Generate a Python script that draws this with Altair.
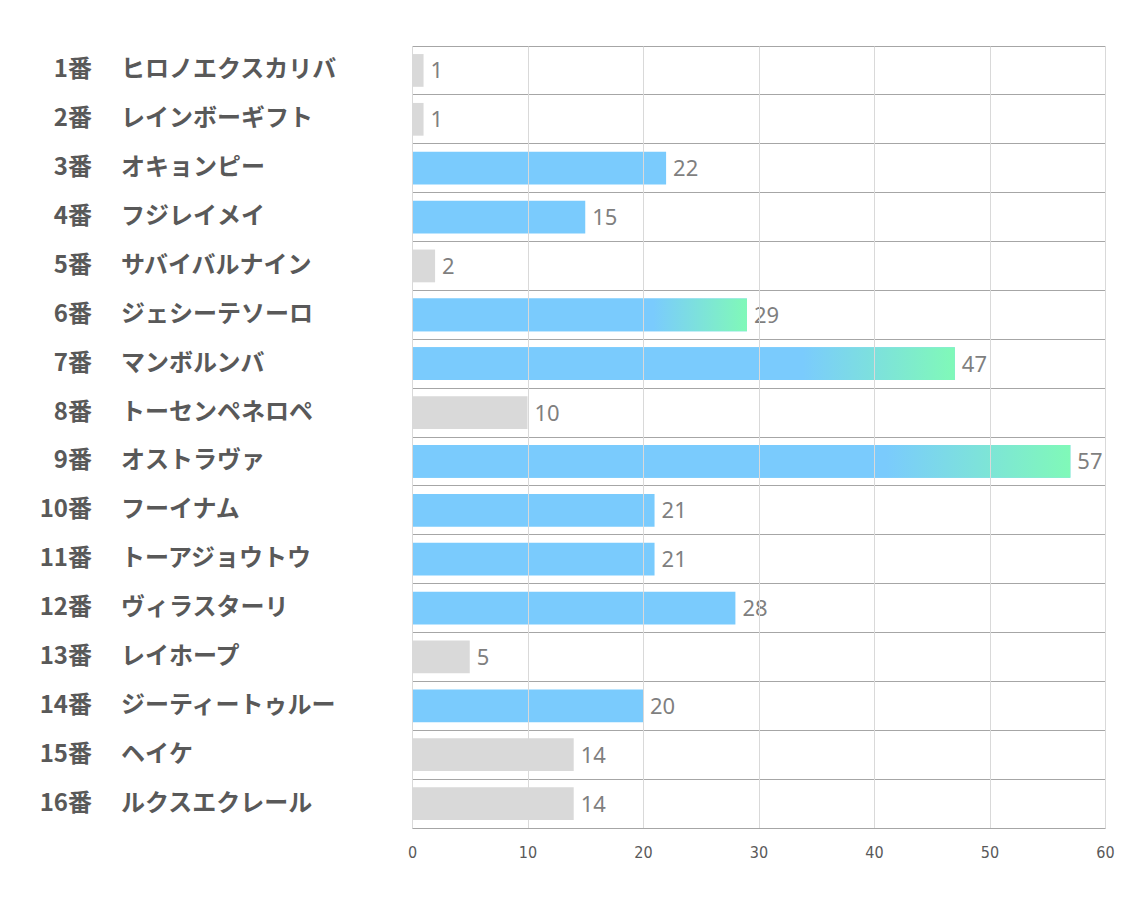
import altair as alt
import pandas as pd

numbers = ["1番", "2番", "3番", "4番", "5番", "6番", "7番", "8番",
           "9番", "10番", "11番", "12番", "13番", "14番", "15番", "16番"]
names = ["ヒロノエクスカリバ", "レインボーギフト", "オキョンピー", "フジレイメイ",
         "サバイバルナイン", "ジェシーテソーロ", "マンボルンバ", "トーセンペネロペ",
         "オストラヴァ", "フーイナム", "トーアジョウトウ", "ヴィラスターリ",
         "レイホープ", "ジーティートゥルー", "ヘイケ", "ルクスエクレール"]
values = [1, 1, 22, 15, 2, 29, 47, 10, 57, 21, 21, 28, 5, 20, 14, 14]
highlight = [0, 0, 1, 1, 0, 1, 1, 0, 1, 1, 1, 1, 0, 1, 0, 0]
gradient = [0, 0, 0, 0, 0, 1, 1, 0, 1, 0, 0, 0, 0, 0, 0, 0]

BLUE = "#7acbfd"
GREEN = "#80f9b8"
GRAY = "#d9d9d9"
TEXT = "#595959"

df = pd.DataFrame({
    "num": numbers,
    "name": names,
    "value": values,
    "group": ["blue" if h else "gray" for h in highlight],
    "grad": gradient,
})

y_enc = alt.Y("num:N", sort=numbers, title=None,
              scale=alt.Scale(paddingInner=0, paddingOuter=0),
              axis=alt.Axis(labels=False, ticks=False, domain=False, grid=True,
                            bandPosition=0, gridColor="#a6a6a6", gridWidth=1))

x_enc = alt.X("value:Q", title=None,
              scale=alt.Scale(domain=[0, 60], nice=False),
              axis=alt.Axis(values=[0, 10, 20, 30, 40, 50, 60], grid=True,
                            gridColor="#d9d9d9", gridWidth=1, ticks=False,
                            domain=True, domainColor="#a6a6a6", labelPadding=16,
                            labelFlush=False, labelBound=False,
                            labelFont="DejaVu Sans Condensed, DejaVu Sans", labelFontSize=16,
                            labelColor=TEXT, zindex=1))

base = alt.Chart(df)

bars = base.mark_bar(height={"band": 0.67}, cornerRadius=0).encode(
    x=x_enc,
    y=y_enc,
    color=alt.Color("group:N", scale=alt.Scale(domain=["blue", "gray"], range=[BLUE, GRAY]),
                    legend=None),
)

grad_bars = base.transform_filter(alt.datum.grad == 1).mark_bar(
    height={"band": 0.67},
    color=alt.Gradient(
        gradient="linear",
        stops=[alt.GradientStop(color=BLUE, offset=0),
               alt.GradientStop(color=BLUE, offset=0.72),
               alt.GradientStop(color=GREEN, offset=1)],
        x1=0, x2=1, y1=0, y2=0),
).encode(x="value:Q", y=alt.Y("num:N", sort=numbers))

value_text = base.mark_text(align="left", baseline="middle", dx=7, dy=1,
                            fontSize=22, color="#7f7f7f", font="Noto Sans").encode(
    x="value:Q", y=alt.Y("num:N", sort=numbers), text="value:Q")

num_text = base.mark_text(align="right", baseline="middle", fontSize=24,
                          fontWeight="bold", color=TEXT,
                          font="Noto Sans CJK JP").encode(
    x=alt.value(-320), y=alt.Y("num:N", sort=numbers), text="num:N")

name_text = base.mark_text(align="left", baseline="middle", fontSize=24,
                           fontWeight="bold", color=TEXT,
                           font="Noto Sans CJK JP").encode(
    x=alt.value(-291), y=alt.Y("num:N", sort=numbers), text="name:N")

chart = alt.layer(bars, grad_bars, value_text, num_text, name_text).properties(
    width=693, height=782,
    autosize=alt.AutoSizeParams(type="none"),
    padding={"left": 412, "top": 46, "right": 29, "bottom": 79},
).configure_view(stroke=None)

chart.save("out.html", embed_options={"renderer": "svg", "actions": False})
